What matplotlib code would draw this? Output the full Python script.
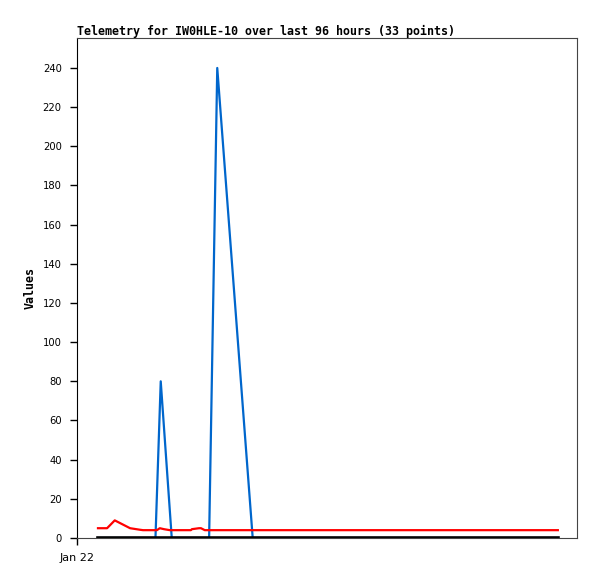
import matplotlib
matplotlib.use("Agg")
import matplotlib.pyplot as plt

# hours since start of window
blue_hours = [0, 12.0, 13.1, 15.4, 23.2, 24.9, 32.3, 96]
blue_values = [0, 0, 80, 0, 0, 240, 0, 0]

red_hours = [0, 1.9, 3.5, 6.7, 8.8, 9.4, 12.3, 12.9, 13.8, 15.0, 19.4, 19.6, 21.1, 21.5, 22.3, 96]
red_values = [5, 5, 9, 5, 4.2, 4, 4, 5, 4.5, 4, 4, 4.5, 5, 5, 4, 4]

black_hours = [0, 96]
black_values = [0, 0]

y_ticks = list(range(0, 241, 20))
x_tick_labels = ["Jan 22"]

fig = plt.figure(figsize=(5.97, 5.79), dpi=100)
ax = fig.add_axes([77 / 597, 41 / 579, 500 / 597, 500 / 579])

ax.plot(blue_hours, blue_values, color="#0066cc", lw=1.6)
ax.plot(red_hours, red_values, color="#ff0000", lw=1.6)
ax.plot(black_hours, black_values, color="black", lw=2.6)

ax.set_xlim(-4.38, 100.0)
ax.set_ylim(0, 255.3)

ax.set_yticks(y_ticks)
ax.set_yticklabels([str(t) for t in y_ticks], fontsize=7.2, family="DejaVu Sans")
ax.set_xticks([-4.38])
ax.set_xticklabels(x_tick_labels, fontsize=8, family="DejaVu Sans")
ax.tick_params(axis="both", direction="out", length=5, width=1, color="black")
ax.tick_params(axis="y", pad=6)
ax.tick_params(axis="x", pad=6)

for side in ["top", "right", "bottom"]:
    ax.spines[side].set_color("#444444")
ax.spines["left"].set_color("black")

ax.set_title("Telemetry for IW0HLE-10 over last 96 hours (33 points)",
             loc="left", fontsize=8.35, fontweight="bold", family="DejaVu Sans Mono", pad=2)
ax.set_ylabel("Values", fontsize=8.35, fontweight="bold", family="DejaVu Sans Mono", labelpad=4)

fig.savefig("out.png", dpi=100)
